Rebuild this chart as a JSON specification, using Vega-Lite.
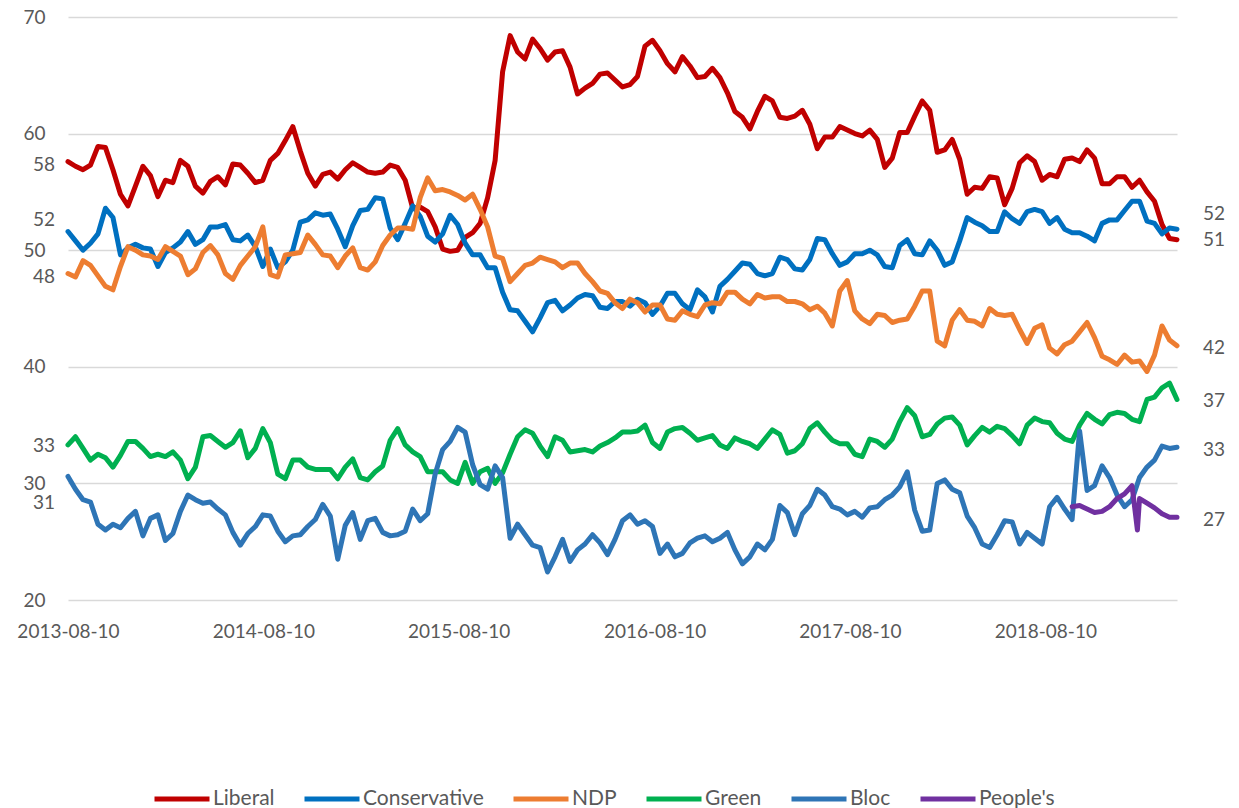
{
"$schema":"https://vega.github.io/schema/vega-lite/v6.json",
"width":1109,"height":583,"autosize":"none",
"padding":{"left":68,"top":17,"right":62,"bottom":208},
"background":"white",
"config":{"view":{"stroke":null},"font":"Lato"},
"datasets":{
"polls":[
{"d":"2013-08-10","Liberal":57.6,"Conservative":51.6,"NDP":48.0,"Green":33.3,"Bloc":30.6},
{"d":"2013-08-24","Liberal":57.2,"Conservative":50.8,"NDP":47.7,"Green":34.0,"Bloc":29.5},
{"d":"2013-09-07","Liberal":56.9,"Conservative":50.0,"NDP":49.1,"Green":33.0,"Bloc":28.6},
{"d":"2013-09-21","Liberal":57.3,"Conservative":50.6,"NDP":48.7,"Green":32.0,"Bloc":28.4},
{"d":"2013-10-05","Liberal":58.9,"Conservative":51.4,"NDP":47.8,"Green":32.5,"Bloc":26.5},
{"d":"2013-10-19","Liberal":58.8,"Conservative":53.6,"NDP":46.9,"Green":32.2,"Bloc":26.0},
{"d":"2013-11-02","Liberal":56.9,"Conservative":52.8,"NDP":46.6,"Green":31.4,"Bloc":26.5},
{"d":"2013-11-16","Liberal":54.8,"Conservative":49.6,"NDP":48.6,"Green":32.4,"Bloc":26.2},
{"d":"2013-11-30","Liberal":53.8,"Conservative":50.2,"NDP":50.3,"Green":33.6,"Bloc":27.0},
{"d":"2013-12-14","Liberal":55.5,"Conservative":50.5,"NDP":50.0,"Green":33.6,"Bloc":27.6},
{"d":"2013-12-28","Liberal":57.2,"Conservative":50.2,"NDP":49.6,"Green":33.0,"Bloc":25.5},
{"d":"2014-01-11","Liberal":56.4,"Conservative":50.1,"NDP":49.5,"Green":32.3,"Bloc":27.0},
{"d":"2014-01-25","Liberal":54.6,"Conservative":48.6,"NDP":49.2,"Green":32.5,"Bloc":27.3},
{"d":"2014-02-08","Liberal":56.0,"Conservative":49.8,"NDP":50.3,"Green":32.3,"Bloc":25.1},
{"d":"2014-02-22","Liberal":55.8,"Conservative":50.2,"NDP":49.9,"Green":32.7,"Bloc":25.7},
{"d":"2014-03-08","Liberal":57.7,"Conservative":50.7,"NDP":49.5,"Green":32.0,"Bloc":27.6},
{"d":"2014-03-22","Liberal":57.2,"Conservative":51.6,"NDP":47.9,"Green":30.4,"Bloc":29.0},
{"d":"2014-04-05","Liberal":55.5,"Conservative":50.5,"NDP":48.4,"Green":31.4,"Bloc":28.6},
{"d":"2014-04-19","Liberal":54.9,"Conservative":50.9,"NDP":49.8,"Green":34.0,"Bloc":28.3},
{"d":"2014-05-03","Liberal":55.9,"Conservative":52.0,"NDP":50.4,"Green":34.1,"Bloc":28.4},
{"d":"2014-05-17","Liberal":56.3,"Conservative":52.0,"NDP":49.6,"Green":33.6,"Bloc":27.8},
{"d":"2014-05-31","Liberal":55.6,"Conservative":52.2,"NDP":48.0,"Green":33.1,"Bloc":27.3},
{"d":"2014-06-14","Liberal":57.4,"Conservative":50.9,"NDP":47.5,"Green":33.5,"Bloc":25.8},
{"d":"2014-06-28","Liberal":57.3,"Conservative":50.8,"NDP":48.7,"Green":34.5,"Bloc":24.7},
{"d":"2014-07-12","Liberal":56.6,"Conservative":51.3,"NDP":49.5,"Green":32.2,"Bloc":25.7},
{"d":"2014-07-26","Liberal":55.8,"Conservative":50.3,"NDP":50.3,"Green":33.0,"Bloc":26.3},
{"d":"2014-08-09","Liberal":56.0,"Conservative":48.6,"NDP":52.0,"Green":34.7,"Bloc":27.3},
{"d":"2014-08-23","Liberal":57.7,"Conservative":50.1,"NDP":47.9,"Green":33.5,"Bloc":27.2},
{"d":"2014-09-06","Liberal":58.3,"Conservative":48.5,"NDP":47.7,"Green":30.8,"Bloc":25.9},
{"d":"2014-09-20","Liberal":59.4,"Conservative":49.0,"NDP":49.6,"Green":30.4,"Bloc":25.0},
{"d":"2014-10-04","Liberal":60.6,"Conservative":50.0,"NDP":49.7,"Green":32.0,"Bloc":25.5},
{"d":"2014-10-18","Liberal":58.5,"Conservative":52.4,"NDP":49.8,"Green":32.0,"Bloc":25.6},
{"d":"2014-11-01","Liberal":56.6,"Conservative":52.6,"NDP":51.3,"Green":31.4,"Bloc":26.3},
{"d":"2014-11-15","Liberal":55.5,"Conservative":53.2,"NDP":50.5,"Green":31.2,"Bloc":26.9},
{"d":"2014-11-29","Liberal":56.5,"Conservative":53.0,"NDP":49.6,"Green":31.2,"Bloc":28.2},
{"d":"2014-12-13","Liberal":56.7,"Conservative":53.1,"NDP":49.5,"Green":31.2,"Bloc":27.2},
{"d":"2014-12-27","Liberal":56.1,"Conservative":51.8,"NDP":48.5,"Green":30.4,"Bloc":23.5},
{"d":"2015-01-10","Liberal":56.9,"Conservative":50.3,"NDP":49.5,"Green":31.4,"Bloc":26.4},
{"d":"2015-01-24","Liberal":57.5,"Conservative":52.1,"NDP":50.2,"Green":32.1,"Bloc":27.5},
{"d":"2015-02-07","Liberal":57.1,"Conservative":53.4,"NDP":48.5,"Green":30.5,"Bloc":25.2},
{"d":"2015-02-21","Liberal":56.7,"Conservative":53.5,"NDP":48.3,"Green":30.3,"Bloc":26.8},
{"d":"2015-03-07","Liberal":56.6,"Conservative":54.5,"NDP":49.0,"Green":31.0,"Bloc":27.0},
{"d":"2015-03-21","Liberal":56.7,"Conservative":54.4,"NDP":50.4,"Green":31.5,"Bloc":25.8},
{"d":"2015-04-04","Liberal":57.3,"Conservative":51.9,"NDP":51.3,"Green":33.7,"Bloc":25.5},
{"d":"2015-04-18","Liberal":57.1,"Conservative":50.9,"NDP":51.9,"Green":34.7,"Bloc":25.6},
{"d":"2015-05-02","Liberal":56.0,"Conservative":52.3,"NDP":51.9,"Green":33.3,"Bloc":25.9},
{"d":"2015-05-16","Liberal":53.6,"Conservative":53.8,"NDP":51.8,"Green":32.7,"Bloc":27.8},
{"d":"2015-05-30","Liberal":53.7,"Conservative":52.9,"NDP":54.5,"Green":32.3,"Bloc":26.8},
{"d":"2015-06-13","Liberal":53.3,"Conservative":51.2,"NDP":56.2,"Green":31.0,"Bloc":27.4},
{"d":"2015-06-27","Liberal":52.0,"Conservative":50.7,"NDP":55.1,"Green":31.0,"Bloc":30.8},
{"d":"2015-07-11","Liberal":50.1,"Conservative":51.4,"NDP":55.2,"Green":31.0,"Bloc":32.9},
{"d":"2015-07-25","Liberal":49.9,"Conservative":53.0,"NDP":55.0,"Green":30.3,"Bloc":33.6},
{"d":"2015-08-08","Liberal":50.0,"Conservative":52.2,"NDP":54.7,"Green":30.0,"Bloc":34.8},
{"d":"2015-08-22","Liberal":51.1,"Conservative":50.6,"NDP":54.3,"Green":31.8,"Bloc":34.4},
{"d":"2015-09-05","Liberal":51.5,"Conservative":49.6,"NDP":54.8,"Green":30.0,"Bloc":31.6},
{"d":"2015-09-19","Liberal":52.3,"Conservative":49.6,"NDP":53.5,"Green":31.0,"Bloc":29.9},
{"d":"2015-10-03","Liberal":54.5,"Conservative":48.5,"NDP":52.0,"Green":31.3,"Bloc":29.5},
{"d":"2015-10-17","Liberal":57.7,"Conservative":48.5,"NDP":49.5,"Green":30.0,"Bloc":31.5},
{"d":"2015-10-31","Liberal":65.3,"Conservative":46.4,"NDP":49.3,"Green":30.9,"Bloc":30.5},
{"d":"2015-11-14","Liberal":68.4,"Conservative":44.9,"NDP":47.3,"Green":32.5,"Bloc":25.3},
{"d":"2015-11-28","Liberal":67.0,"Conservative":44.8,"NDP":48.0,"Green":34.0,"Bloc":26.5},
{"d":"2015-12-12","Liberal":66.4,"Conservative":43.9,"NDP":48.7,"Green":34.6,"Bloc":25.6},
{"d":"2015-12-26","Liberal":68.1,"Conservative":43.0,"NDP":48.9,"Green":34.3,"Bloc":24.7},
{"d":"2016-01-09","Liberal":67.3,"Conservative":44.2,"NDP":49.4,"Green":33.2,"Bloc":24.5},
{"d":"2016-01-23","Liberal":66.3,"Conservative":45.5,"NDP":49.2,"Green":32.3,"Bloc":22.4},
{"d":"2016-02-06","Liberal":67.0,"Conservative":45.7,"NDP":49.0,"Green":34.0,"Bloc":23.7},
{"d":"2016-02-20","Liberal":67.1,"Conservative":44.8,"NDP":48.5,"Green":33.7,"Bloc":25.2},
{"d":"2016-03-05","Liberal":65.7,"Conservative":45.3,"NDP":48.9,"Green":32.7,"Bloc":23.3},
{"d":"2016-03-19","Liberal":63.4,"Conservative":45.9,"NDP":48.9,"Green":32.8,"Bloc":24.3},
{"d":"2016-04-02","Liberal":63.9,"Conservative":46.2,"NDP":48.0,"Green":32.9,"Bloc":24.8},
{"d":"2016-04-16","Liberal":64.3,"Conservative":46.1,"NDP":47.3,"Green":32.7,"Bloc":25.6},
{"d":"2016-04-30","Liberal":65.1,"Conservative":45.1,"NDP":46.5,"Green":33.2,"Bloc":24.9},
{"d":"2016-05-14","Liberal":65.2,"Conservative":45.0,"NDP":46.3,"Green":33.5,"Bloc":23.9},
{"d":"2016-05-28","Liberal":64.6,"Conservative":45.6,"NDP":45.5,"Green":33.9,"Bloc":25.2},
{"d":"2016-06-11","Liberal":64.0,"Conservative":45.6,"NDP":45.0,"Green":34.4,"Bloc":26.8},
{"d":"2016-06-25","Liberal":64.2,"Conservative":45.2,"NDP":45.8,"Green":34.4,"Bloc":27.3},
{"d":"2016-07-09","Liberal":64.9,"Conservative":45.8,"NDP":45.5,"Green":34.5,"Bloc":26.5},
{"d":"2016-07-23","Liberal":67.5,"Conservative":45.5,"NDP":44.7,"Green":35.0,"Bloc":26.8},
{"d":"2016-08-06","Liberal":68.0,"Conservative":44.5,"NDP":45.3,"Green":33.5,"Bloc":26.3},
{"d":"2016-08-20","Liberal":67.1,"Conservative":45.2,"NDP":45.3,"Green":33.0,"Bloc":24.0},
{"d":"2016-09-03","Liberal":66.0,"Conservative":46.3,"NDP":44.1,"Green":34.4,"Bloc":24.8},
{"d":"2016-09-17","Liberal":65.3,"Conservative":46.3,"NDP":44.0,"Green":34.7,"Bloc":23.7},
{"d":"2016-10-01","Liberal":66.6,"Conservative":45.4,"NDP":44.8,"Green":34.8,"Bloc":24.0},
{"d":"2016-10-15","Liberal":65.8,"Conservative":44.9,"NDP":44.5,"Green":34.3,"Bloc":24.9},
{"d":"2016-10-29","Liberal":64.8,"Conservative":46.6,"NDP":44.3,"Green":33.7,"Bloc":25.3},
{"d":"2016-11-12","Liberal":64.9,"Conservative":46.0,"NDP":45.3,"Green":33.9,"Bloc":25.5},
{"d":"2016-11-26","Liberal":65.6,"Conservative":44.7,"NDP":45.5,"Green":34.1,"Bloc":25.0},
{"d":"2016-12-10","Liberal":64.8,"Conservative":46.9,"NDP":45.4,"Green":33.3,"Bloc":25.3},
{"d":"2016-12-24","Liberal":63.5,"Conservative":47.5,"NDP":46.4,"Green":33.0,"Bloc":25.8},
{"d":"2017-01-07","Liberal":61.9,"Conservative":48.2,"NDP":46.4,"Green":33.9,"Bloc":24.3},
{"d":"2017-01-21","Liberal":61.4,"Conservative":48.9,"NDP":45.8,"Green":33.6,"Bloc":23.1},
{"d":"2017-02-04","Liberal":60.4,"Conservative":48.8,"NDP":45.4,"Green":33.4,"Bloc":23.7},
{"d":"2017-02-18","Liberal":61.9,"Conservative":48.0,"NDP":46.2,"Green":33.0,"Bloc":24.8},
{"d":"2017-03-04","Liberal":63.2,"Conservative":47.8,"NDP":45.9,"Green":33.8,"Bloc":24.3},
{"d":"2017-03-18","Liberal":62.8,"Conservative":48.0,"NDP":46.0,"Green":34.6,"Bloc":25.2},
{"d":"2017-04-01","Liberal":61.4,"Conservative":49.4,"NDP":46.0,"Green":34.2,"Bloc":28.1},
{"d":"2017-04-15","Liberal":61.3,"Conservative":49.2,"NDP":45.6,"Green":32.6,"Bloc":27.5},
{"d":"2017-04-29","Liberal":61.5,"Conservative":48.4,"NDP":45.6,"Green":32.8,"Bloc":25.6},
{"d":"2017-05-13","Liberal":62.0,"Conservative":48.3,"NDP":45.4,"Green":33.4,"Bloc":27.4},
{"d":"2017-05-27","Liberal":60.8,"Conservative":49.2,"NDP":44.9,"Green":34.7,"Bloc":28.1},
{"d":"2017-06-10","Liberal":58.7,"Conservative":51.0,"NDP":45.2,"Green":35.2,"Bloc":29.5},
{"d":"2017-06-24","Liberal":59.7,"Conservative":50.9,"NDP":44.6,"Green":34.4,"Bloc":29.0},
{"d":"2017-07-08","Liberal":59.7,"Conservative":49.7,"NDP":43.5,"Green":33.7,"Bloc":28.0},
{"d":"2017-07-22","Liberal":60.6,"Conservative":48.7,"NDP":46.5,"Green":33.4,"Bloc":27.8},
{"d":"2017-08-05","Liberal":60.3,"Conservative":49.0,"NDP":47.4,"Green":33.4,"Bloc":27.3},
{"d":"2017-08-19","Liberal":60.0,"Conservative":49.7,"NDP":44.8,"Green":32.5,"Bloc":27.6},
{"d":"2017-09-02","Liberal":59.8,"Conservative":49.7,"NDP":44.1,"Green":32.3,"Bloc":27.1},
{"d":"2017-09-16","Liberal":60.3,"Conservative":50.0,"NDP":43.7,"Green":33.8,"Bloc":27.9},
{"d":"2017-09-30","Liberal":59.5,"Conservative":49.6,"NDP":44.5,"Green":33.6,"Bloc":28.0},
{"d":"2017-10-14","Liberal":57.1,"Conservative":48.6,"NDP":44.4,"Green":33.1,"Bloc":28.6},
{"d":"2017-10-28","Liberal":57.9,"Conservative":48.5,"NDP":43.8,"Green":33.8,"Bloc":29.0},
{"d":"2017-11-11","Liberal":60.1,"Conservative":50.4,"NDP":44.0,"Green":35.3,"Bloc":29.7},
{"d":"2017-11-25","Liberal":60.1,"Conservative":50.9,"NDP":44.1,"Green":36.5,"Bloc":31.0},
{"d":"2017-12-09","Liberal":61.5,"Conservative":49.7,"NDP":45.2,"Green":35.8,"Bloc":27.7},
{"d":"2017-12-23","Liberal":62.8,"Conservative":49.6,"NDP":46.5,"Green":34.0,"Bloc":25.9},
{"d":"2018-01-06","Liberal":62.0,"Conservative":50.8,"NDP":46.5,"Green":34.2,"Bloc":26.0},
{"d":"2018-01-20","Liberal":58.4,"Conservative":50.0,"NDP":42.2,"Green":35.1,"Bloc":30.0},
{"d":"2018-02-03","Liberal":58.6,"Conservative":48.7,"NDP":41.8,"Green":35.6,"Bloc":30.3},
{"d":"2018-02-17","Liberal":59.5,"Conservative":49.0,"NDP":44.0,"Green":35.7,"Bloc":29.5},
{"d":"2018-03-03","Liberal":57.8,"Conservative":50.8,"NDP":44.9,"Green":35.0,"Bloc":29.2},
{"d":"2018-03-17","Liberal":54.8,"Conservative":52.8,"NDP":44.0,"Green":33.3,"Bloc":27.2},
{"d":"2018-03-31","Liberal":55.4,"Conservative":52.4,"NDP":43.9,"Green":34.1,"Bloc":26.2},
{"d":"2018-04-14","Liberal":55.3,"Conservative":52.1,"NDP":43.5,"Green":34.8,"Bloc":24.8},
{"d":"2018-04-28","Liberal":56.3,"Conservative":51.6,"NDP":45.0,"Green":34.4,"Bloc":24.5},
{"d":"2018-05-12","Liberal":56.2,"Conservative":51.6,"NDP":44.5,"Green":34.9,"Bloc":25.6},
{"d":"2018-05-26","Liberal":53.9,"Conservative":53.3,"NDP":44.4,"Green":34.7,"Bloc":26.8},
{"d":"2018-06-09","Liberal":55.3,"Conservative":52.7,"NDP":44.5,"Green":34.1,"Bloc":26.7},
{"d":"2018-06-23","Liberal":57.5,"Conservative":52.3,"NDP":43.2,"Green":33.4,"Bloc":24.8},
{"d":"2018-07-07","Liberal":58.1,"Conservative":53.3,"NDP":42.0,"Green":35.0,"Bloc":25.8},
{"d":"2018-07-21","Liberal":57.6,"Conservative":53.5,"NDP":43.3,"Green":35.6,"Bloc":25.3},
{"d":"2018-08-04","Liberal":56.0,"Conservative":53.3,"NDP":43.6,"Green":35.3,"Bloc":24.8},
{"d":"2018-08-18","Liberal":56.5,"Conservative":52.3,"NDP":41.6,"Green":35.2,"Bloc":28.0},
{"d":"2018-09-01","Liberal":56.3,"Conservative":52.8,"NDP":41.1,"Green":34.3,"Bloc":28.8},
{"d":"2018-09-15","Liberal":57.8,"Conservative":51.8,"NDP":41.9,"Green":33.8,"Bloc":27.8},
{"d":"2018-09-29","Liberal":57.9,"Conservative":51.5,"NDP":42.2,"Green":33.6,"Bloc":26.9},
{"d":"2018-10-13","Liberal":57.6,"Conservative":51.5,"NDP":43.0,"Green":35.0,"Bloc":34.5},
{"d":"2018-10-27","Liberal":58.6,"Conservative":51.2,"NDP":43.8,"Green":36.0,"Bloc":29.4},
{"d":"2018-11-10","Liberal":57.9,"Conservative":50.8,"NDP":42.5,"Green":35.5,"Bloc":29.8},
{"d":"2018-11-24","Liberal":55.7,"Conservative":52.3,"NDP":40.9,"Green":35.1,"Bloc":31.5},
{"d":"2018-12-08","Liberal":55.7,"Conservative":52.6,"NDP":40.6,"Green":35.9,"Bloc":30.5},
{"d":"2018-12-22","Liberal":56.3,"Conservative":52.6,"NDP":40.2,"Green":36.1,"Bloc":29.0},
{"d":"2019-01-05","Liberal":56.3,"Conservative":53.4,"NDP":41.0,"Green":36.0,"Bloc":28.0},
{"d":"2019-01-19","Liberal":55.4,"Conservative":54.2,"NDP":40.4,"Green":35.5,"Bloc":28.6},
{"d":"2019-02-02","Liberal":56.0,"Conservative":54.2,"NDP":40.5,"Green":35.3,"Bloc":30.5},
{"d":"2019-02-16","Liberal":55.0,"Conservative":52.5,"NDP":39.6,"Green":37.2,"Bloc":31.4},
{"d":"2019-03-02","Liberal":54.2,"Conservative":52.3,"NDP":41.0,"Green":37.4,"Bloc":32.0},
{"d":"2019-03-16","Liberal":52.2,"Conservative":51.4,"NDP":43.5,"Green":38.2,"Bloc":33.2},
{"d":"2019-03-30","Liberal":51.0,"Conservative":51.9,"NDP":42.3,"Green":38.6,"Bloc":33.0},
{"d":"2019-04-13","Liberal":50.9,"Conservative":51.8,"NDP":41.8,"Green":37.2,"Bloc":33.1}
],
"peoples":[
{"d":"2018-09-29","party":"People's","v":28.0},
{"d":"2018-10-13","party":"People's","v":28.1},
{"d":"2018-10-27","party":"People's","v":27.8},
{"d":"2018-11-10","party":"People's","v":27.5},
{"d":"2018-11-24","party":"People's","v":27.6},
{"d":"2018-12-08","party":"People's","v":28.0},
{"d":"2018-12-22","party":"People's","v":28.7},
{"d":"2019-01-05","party":"People's","v":29.1},
{"d":"2019-01-19","party":"People's","v":29.8},
{"d":"2019-01-29","party":"People's","v":26.0},
{"d":"2019-02-02","party":"People's","v":28.7},
{"d":"2019-02-16","party":"People's","v":28.3},
{"d":"2019-03-02","party":"People's","v":27.9},
{"d":"2019-03-16","party":"People's","v":27.4},
{"d":"2019-03-30","party":"People's","v":27.1},
{"d":"2019-04-13","party":"People's","v":27.1}
],
"labels":[
{"t":"58","d":"2013-08-10","v":57.3,"s":"L"},
{"t":"52","d":"2013-08-10","v":52.6,"s":"L"},
{"t":"48","d":"2013-08-10","v":47.7,"s":"L"},
{"t":"33","d":"2013-08-10","v":33.2,"s":"L"},
{"t":"31","d":"2013-08-10","v":28.3,"s":"L"},
{"t":"52","d":"2019-04-13","v":53.1,"s":"R"},
{"t":"51","d":"2019-04-13","v":50.9,"s":"R"},
{"t":"42","d":"2019-04-13","v":41.6,"s":"R"},
{"t":"37","d":"2019-04-13","v":37.1,"s":"R"},
{"t":"33","d":"2019-04-13","v":32.9,"s":"R"},
{"t":"27","d":"2019-04-13","v":26.9,"s":"R"}
]
},
"encoding":{
"x":{"field":"d","type":"temporal","scale":{"type":"utc","nice":false},
"axis":{"title":null,"format":"%Y-%m-%d","labelFlush":false,"labelOverlap":false,"domain":false,"ticks":false,"grid":false,"labelPadding":22,"labelFontSize":19,"labelColor":"#595959","labelFont":"Lato",
"values":[{"year":2013,"month":8,"date":10,"utc":true},{"year":2014,"month":8,"date":10,"utc":true},{"year":2015,"month":8,"date":10,"utc":true},{"year":2016,"month":8,"date":10,"utc":true},{"year":2017,"month":8,"date":10,"utc":true},{"year":2018,"month":8,"date":10,"utc":true}]}},
"y":{"field":"v","type":"quantitative","scale":{"domain":[20,70],"nice":false,"zero":false},
"axis":{"title":null,"values":[20,30,40,50,60,70],"domain":false,"ticks":false,"grid":true,"gridColor":"#D9D9D9","gridWidth":1.5,"labelPadding":23,"labelFontSize":19,"labelColor":"#595959","labelFont":"Lato"}}
},
"layer":[
{
"data":{"name":"polls"},
"transform":[
{"fold":["Liberal","Conservative","NDP","Green","Bloc"],"as":["party","v"]}
],
"mark":{"type":"line","strokeWidth":5,"strokeJoin":"round","strokeCap":"round"},
"encoding":{
"color":{"field":"party","type":"nominal",
"scale":{"domain":["Liberal","Conservative","NDP","Green","Bloc","People's"],"range":["#C00000","#0070C0","#ED7D31","#00B050","#2E75B6","#7030A0"]},
"legend":{"orient":"none","legendX":84,"legendY":752,"direction":"horizontal","title":null,"symbolType":"stroke","symbolSize":3025,"symbolStrokeWidth":5,"labelFontSize":21,"labelColor":"#595959","labelFont":"Lato","labelOffset":1,"columnPadding":19}}
}
},
{
"data":{"name":"peoples"},
"mark":{"type":"line","strokeWidth":5,"strokeJoin":"round","strokeCap":"round"},
"encoding":{"color":{"field":"party","type":"nominal"}}
},
{
"data":{"name":"labels"},
"transform":[{"filter":"datum.s == 'L'"}],
"mark":{"type":"text","align":"right","baseline":"middle","dx":-13,"fontSize":19,"font":"Lato","color":"#595959"},
"encoding":{"text":{"field":"t"}}
},
{
"data":{"name":"labels"},
"transform":[{"filter":"datum.s == 'R'"}],
"mark":{"type":"text","align":"left","baseline":"middle","dx":26,"fontSize":19,"font":"Lato","color":"#595959"},
"encoding":{"text":{"field":"t"}}
}
]
}
